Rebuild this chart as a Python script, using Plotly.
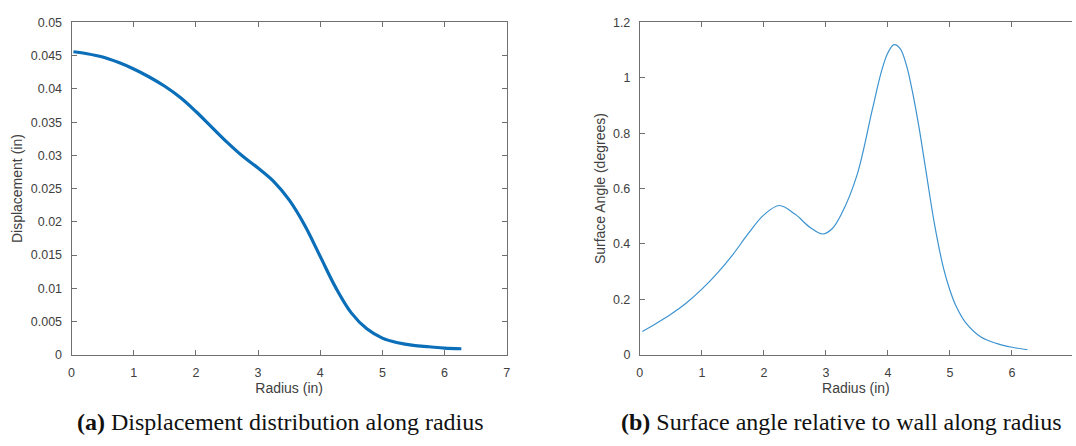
import plotly.graph_objects as go

# ---- data ----
radius_disp = [0.03, 0.25, 0.5, 0.75, 1.0, 1.25, 1.5, 1.75, 2.0, 2.25, 2.5, 2.75, 3.0,
               3.25, 3.5, 3.75, 4.0, 4.25, 4.5, 4.75, 5.0, 5.25, 5.5, 5.75, 6.0, 6.27]
displacement = [0.0456, 0.0453, 0.0448, 0.0440, 0.0430, 0.0418, 0.0404, 0.0387, 0.0366, 0.0343,
                0.0320, 0.0299, 0.0281, 0.0261, 0.0233, 0.0195, 0.0148, 0.0101, 0.0063, 0.0039,
                0.0025, 0.0018, 0.0014, 0.0012, 0.0010, 0.0009]

radius_ang = [0.04, 0.25, 0.5, 0.75, 1.0, 1.25, 1.5, 1.75, 2.0, 2.25, 2.5, 2.75, 2.95, 3.1,
              3.25, 3.5, 3.75, 3.9, 4.0, 4.1, 4.2, 4.3, 4.4, 4.5, 4.6, 4.75, 4.9, 5.0, 5.1,
              5.25, 5.5, 5.75, 6.0, 6.25]
angle = [0.084, 0.111, 0.146, 0.187, 0.237, 0.295, 0.362, 0.438, 0.505, 0.539, 0.508, 0.459,
         0.436, 0.455, 0.508, 0.648, 0.887, 1.027, 1.091, 1.120, 1.105, 1.044, 0.945, 0.823,
         0.683, 0.473, 0.309, 0.233, 0.175, 0.117, 0.064, 0.041, 0.027, 0.018]

x_ticks = [0, 1, 2, 3, 4, 5, 6, 7]
disp_ticks = [0, 0.005, 0.01, 0.015, 0.02, 0.025, 0.03, 0.035, 0.04, 0.045, 0.05]
disp_tick_text = ["0", "0.005", "0.01", "0.015", "0.02", "0.025", "0.03", "0.035", "0.04", "0.045", "0.05"]
ang_ticks = [0, 0.2, 0.4, 0.6, 0.8, 1.0, 1.2]
ang_tick_text = ["0", "0.2", "0.4", "0.6", "0.8", "1", "1.2"]

caption_a = "<b>(a)</b> Displacement distribution along radius"
caption_b = "<b>(b)</b> Surface angle relative to wall along radius"

W, H = 1076, 446
AX = "#707070"
TXT = "#404040"
tickfont = dict(family="Liberation Sans, Arial, sans-serif", size=12.5, color=TXT)
titlefont = dict(family="Liberation Sans, Arial, sans-serif", size=14, color=TXT)

fig = go.Figure()
fig.add_trace(go.Scatter(x=radius_disp, y=displacement, mode="lines",
                         line=dict(color="#0a6eb8", width=3.2, shape="spline", smoothing=1),
                         xaxis="x", yaxis="y", showlegend=False))
fig.add_trace(go.Scatter(x=radius_ang, y=angle, mode="lines",
                         line=dict(color="#3d93d0", width=1.2, shape="spline", smoothing=1),
                         xaxis="x2", yaxis="y2", showlegend=False))

ydom = [1 - 359 / H, 1 - 16 / H]
common = dict(showline=True, linecolor=AX, linewidth=1, ticks="inside", ticklen=5, tickcolor=AX,
              showgrid=False, zeroline=False, tickfont=tickfont, ticklabelstandoff=6)

right_end = 7 * (W - 641) / (1078 - 641)

fig.update_layout(
    width=W, height=H, margin=dict(l=0, r=0, t=0, b=0),
    plot_bgcolor="white", paper_bgcolor="white",
    xaxis=dict(domain=[69 / W, 507 / W], range=[0, 7], tickvals=x_ticks, anchor="y", mirror="ticks",
               title=dict(text="Radius (in)", font=titlefont, standoff=3), **common),
    yaxis=dict(domain=ydom, range=[0, 0.05], tickvals=disp_ticks, ticktext=disp_tick_text, anchor="x",
               mirror="ticks", title=dict(text="Displacement (in)", font=titlefont, standoff=4), **common),
    xaxis2=dict(domain=[641 / W, 1.0], range=[0, right_end], tickvals=x_ticks, anchor="y2", mirror="ticks",
                title=dict(text="Radius (in)", font=titlefont, standoff=3), **common),
    yaxis2=dict(domain=ydom, range=[0, 1.2], tickvals=ang_ticks, ticktext=ang_tick_text, anchor="x2",
                title=dict(text="Surface Angle (degrees)", font=titlefont, standoff=4), **common),
    yaxis3=dict(overlaying="y2", side="right", range=[0, 1.2], tickvals=ang_ticks, showticklabels=False,
                ticks="inside", ticklen=5, tickcolor=AX, showline=False, showgrid=False, zeroline=False,
                anchor="free", position=1.0),
)

capfont = dict(family="Liberation Serif, Times New Roman, serif", size=24, color="#111111")
fig.add_annotation(text=caption_a, x=279 / W, y=1 - 428 / H, xref="paper", yref="paper",
                   xanchor="center", yanchor="middle", showarrow=False, font=capfont)
fig.add_annotation(text=caption_b, x=620 / W, y=1 - 428 / H, xref="paper", yref="paper",
                   xanchor="left", yanchor="middle", showarrow=False, font=capfont)

fig.write_html("out.html", config={"displayModeBar": False},
               post_script="document.body.style.margin='0';")
